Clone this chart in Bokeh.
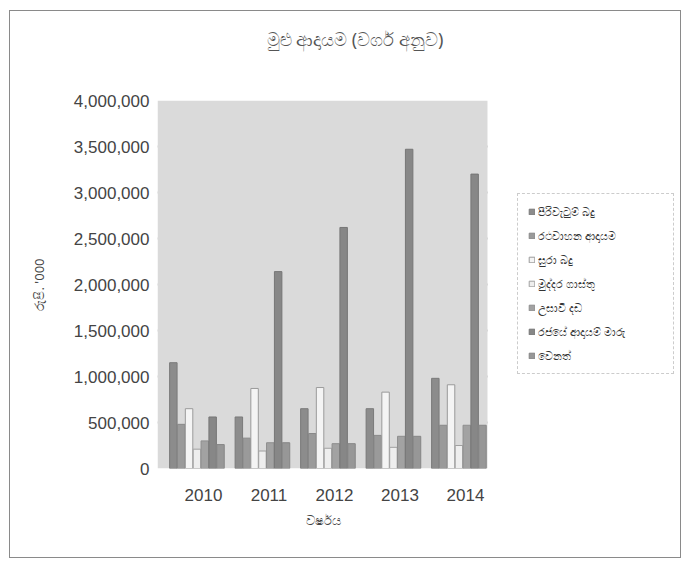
from bokeh.plotting import figure
from bokeh.models import (ColumnDataSource, Legend, LegendItem, FixedTicker, NumeralTickFormatter,
                          Range1d, BoxAnnotation, Title)
from bokeh.transform import dodge
from bokeh.embed import file_html
from bokeh.resources import INLINE

# ---- data (Rs. '000) ----
years = [2010, 2011, 2012, 2013, 2014]
series_names = [
    "පිරිවැටුම් බදු",
    "රථවාහන ආදායම",
    "සුරා බදු",
    "මුද්දර ගාස්තු",
    "උසාවි දඩ",
    "රජයේ ආදායම් මාරු",
    "වෙනත්",
]
turnover = [1150000, 560000, 650000, 650000, 980000]
vehicle = [480000, 330000, 380000, 360000, 470000]
excise = [650000, 870000, 880000, 830000, 910000]
stamp = [210000, 190000, 220000, 230000, 250000]
court = [300000, 280000, 270000, 350000, 470000]
transfers = [560000, 2140000, 2620000, 3470000, 3200000]
other = [260000, 280000, 270000, 350000, 470000]
y_ticks = [0, 500000, 1000000, 1500000, 2000000, 2500000, 3000000, 3500000, 4000000]

title_text = "මුළු ආදායම (වර්ග අනුව)"
x_title = "වර්ෂය"
y_title = "රුපි. '000"

values = [turnover, vehicle, excise, stamp, court, transfers, other]
fills = ["#8c8c8c", "#9a9a9a", "#f4f4f4", "#eeeeee", "#a2a2a2", "#878787", "#979797"]
lines = ["#7a7a7a", "#888888", "#9a9a9a", "#a0a0a0", "#8e8e8e", "#767676", "#858585"]

src = ColumnDataSource(dict(year=years, **{f"s{i}": v for i, v in enumerate(values)}))

# plot-area extent in data units (the frame extends further right to hold the legend)
X0, X1, X_FRAME_END = 2009.298, 2014.336, 2017.283
Y1 = 4000000

FONT = "Liberation Sans"
p = figure(width=672, height=548, output_backend="svg", toolbar_location=None,
           x_range=Range1d(X0, X_FRAME_END), y_range=Range1d(0, Y1),
           min_border_left=147, min_border_right=2, min_border_top=89, min_border_bottom=91)
p.margin = (10, 0, 0, 9)
p.styles = {"border": "1px solid #8a8a8a"}
p.background_fill_color = "white"
p.border_fill_color = "white"
p.outline_line_color = None

p.add_layout(BoxAnnotation(left=X0, right=X1, bottom=0, top=Y1, fill_color="#dadada",
                           fill_alpha=1.0, line_color=None, level="underlay"))

# title: two blank lines below it keep it high above the plot area
p.title.text = title_text + "\n\u00a0\n\u00a0"
p.title.text_font = "Noto Sans"
p.title.text_font_size = "18px"
p.title.text_font_style = "normal"
p.title.text_line_height = 1.0
p.title.text_color = "#555555"
p.title.align = "left"
p.title.offset = 109
p.title.vertical_align = "top"
p.title.standoff = 0

step = 0.12
renderers = []
for i, name in enumerate(series_names):
    off = (i - 3) * step - 0.1
    r = p.vbar(x=dodge("year", off), top=f"s{i}", width=step * 0.95, source=src,
               fill_color=fills[i], line_color=lines[i], line_width=1)
    renderers.append(r)

p.xgrid.grid_line_color = None
p.ygrid.grid_line_color = "#aeaeae"
p.ygrid.grid_line_width = 2
p.ygrid.ticker = FixedTicker(ticks=y_ticks)
p.ygrid.cross_bounds = (X0, X1)
p.ygrid.level = "underlay"

p.xaxis.ticker = FixedTicker(ticks=years)
p.xaxis.formatter = NumeralTickFormatter(format="0")
p.yaxis.ticker = FixedTicker(ticks=y_ticks)
p.yaxis.formatter = NumeralTickFormatter(format="0,0")
for ax in (p.xaxis, p.yaxis):
    ax.axis_line_color = None
    ax.major_tick_line_color = None
    ax.minor_tick_line_color = None
    ax.major_label_text_font = FONT
    ax.major_label_text_font_size = "17px"
    ax.major_label_text_color = "#444444"
    ax.axis_label_text_font = "Noto Sans"
    ax.axis_label_text_font_style = "normal"
    ax.axis_label_text_font_size = "13px"
    ax.axis_label_text_color = "#444444"
p.xaxis.major_label_standoff = 14
p.yaxis.major_label_standoff = 2
p.yaxis.axis_label = y_title
p.yaxis.axis_label_standoff = 23

p.add_layout(Title(text=x_title, text_font="Noto Sans", text_font_size="13px", text_font_style="normal",
                   text_color="#444444", align="left", offset=148, vertical_align="top", standoff=14),
             "below")

legend = Legend(items=[LegendItem(label=n, renderers=[r]) for n, r in zip(series_names, renderers)],
                location=(360, 94), margin=0, padding=10, spacing=9,
                glyph_width=7, glyph_height=7, label_height=14, label_width=125, label_standoff=3,
                label_text_font="Noto Sans", label_text_font_size="11px", label_text_color="#333333",
                border_line_color="#9a9a9a", border_line_dash="1 3", background_fill_color="white",
                background_fill_alpha=1.0)
p.add_layout(legend, "center")

open("out.html", "w").write(file_html(p, INLINE))
